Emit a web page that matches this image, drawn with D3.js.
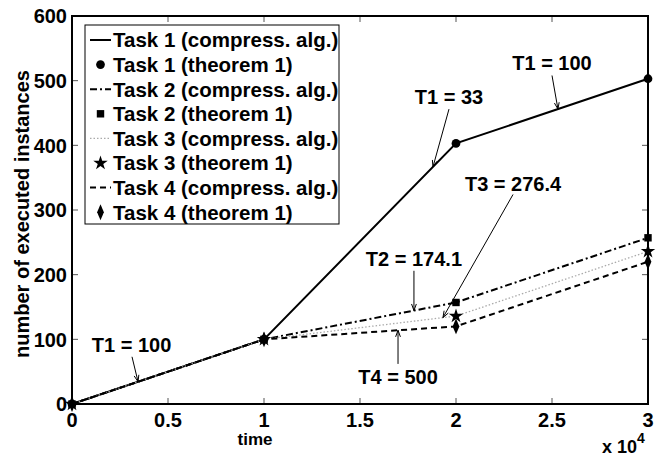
<!DOCTYPE html>
<html>
<head>
<meta charset="utf-8">
<script src="https://cdn.jsdelivr.net/npm/d3@7"></script>
<style>
  body { margin: 0; background: #fff; }
  svg { display: block; font-family: "Liberation Sans", Arial, Helvetica, sans-serif; font-weight: bold; }
</style>
</head>
<body>
<div id="chart"></div>
<script>
// Chart data.
const times = [0, 10000, 20000, 30000];
const task1 = [0, 100, 403, 503];
const task2 = [0, 100, 157, 257];
const task3 = [0, 100, 136, 236];
const task4 = [0, 100, 120, 220];

const xTicks = [0, 5000, 10000, 15000, 20000, 25000, 30000];
const xTickLabels = ["0", "0.5", "1", "1.5", "2", "2.5", "3"];
const yTicks = [0, 100, 200, 300, 400, 500, 600];

const legendLabels = ["Task 1 (compress. alg.)", "Task 1 (theorem 1)",
    "Task 2 (compress. alg.)", "Task 2 (theorem 1)",
    "Task 3 (compress. alg.)", "Task 3 (theorem 1)",
    "Task 4 (compress. alg.)", "Task 4 (theorem 1)"];

// Annotations: label, text anchor (time, value), arrow from -> to (time, value).
const annLabels = ["T1 = 100", "T1 = 33", "T1 = 100", "T3 = 276.4", "T2 = 174.1", "T4 = 500"];
const annText = [[3100, 81], [19635, 464], [25000, 516], [22970, 330], [17810, 214], [16980, 31]];
const annFrom = [[3125, 73], [19635, 456], [25000, 508], [22970, 324], [17810, 206], [16980, 62]];
const annTo = [[3440, 34.4], [18800, 366.6], [25310, 456], [19320, 133.6], [17810, 144.5], [16980, 114]];

function createChart(width, height) {
    const marginTop = 16;
    const marginRight = 10;
    const marginBottom = 54;
    const marginLeft = 72;

    const x = d3.scaleLinear().domain([0, 30000]).range([marginLeft, width - marginRight]);
    const y = d3.scaleLinear().domain([0, 600]).range([height - marginBottom, marginTop]);

    const svg = d3.create("svg")
        .attr("width", width)
        .attr("height", height)
        .attr("viewBox", [0, 0, width, height]);

    // Tick marks on all four sides, pointing inwards.
    const tickLen = 6;
    const ticks = svg.append("g").attr("stroke", "#555").attr("stroke-width", 1);
    xTicks.forEach(t => {
        ticks.append("line").attr("x1", x(t)).attr("x2", x(t))
            .attr("y1", y(0)).attr("y2", y(0) - tickLen);
        ticks.append("line").attr("x1", x(t)).attr("x2", x(t))
            .attr("y1", y(600)).attr("y2", y(600) + tickLen);
    });
    yTicks.forEach(t => {
        ticks.append("line").attr("x1", x(0)).attr("x2", x(0) + tickLen)
            .attr("y1", y(t)).attr("y2", y(t));
        ticks.append("line").attr("x1", x(30000)).attr("x2", x(30000) - tickLen)
            .attr("y1", y(t)).attr("y2", y(t));
    });

    // Tick labels.
    svg.append("g")
        .selectAll("text")
        .data(xTicks)
        .join("text")
        .attr("x", d => x(d))
        .attr("y", y(0) + 23)
        .attr("text-anchor", "middle")
        .attr("font-size", 20)
        .text((d, i) => xTickLabels[i]);

    svg.append("g")
        .selectAll("text")
        .data(yTicks)
        .join("text")
        .attr("x", x(0) - 5)
        .attr("y", d => y(d))
        .attr("dy", "0.36em")
        .attr("text-anchor", "end")
        .attr("font-size", 20)
        .text(d => d);

    // Axis labels.
    svg.append("text")
        .attr("x", 255)
        .attr("y", height - 13)
        .attr("text-anchor", "middle")
        .attr("font-size", 17)
        .text("time");

    svg.append("text")
        .attr("transform", `translate(29,${(y(0) + y(600)) / 2 + 4}) rotate(-90)`)
        .attr("text-anchor", "middle")
        .attr("font-size", 20)
        .text("number of executed instances");

    const exp = svg.append("text")
        .attr("x", width - 56)
        .attr("y", height - 5)
        .attr("font-size", 18);
    exp.append("tspan").text("x 10");
    exp.append("tspan").attr("dy", -10).attr("font-size", 14).text("4");

    // Lines.
    const series = [task1, task2, task3, task4];
    const styles = [
        {stroke: "#000", width: 2, dash: null},
        {stroke: "#000", width: 2, dash: "7,3,2,3"},
        {stroke: "#aaa", width: 1.3, dash: "1.5,2"},
        {stroke: "#000", width: 2, dash: "6,4"}
    ];
    const line = d3.line().x((d, i) => x(times[i])).y(d => y(d));

    series.forEach((s, i) => {
        svg.append("path")
            .datum(s)
            .attr("fill", "none")
            .attr("stroke", styles[i].stroke)
            .attr("stroke-width", styles[i].width)
            .attr("stroke-dasharray", styles[i].dash)
            .attr("d", line);
    });

    // Markers (theorem 1 results).
    const symbols = [
        d3.symbol().type(d3.symbolCircle).size(60),
        d3.symbol().type(d3.symbolSquare).size(55),
        d3.symbol().type(d3.symbolStar).size(65),
        d3.symbol().type(d3.symbolDiamond).size(55)
    ];
    series.forEach((s, i) => {
        svg.append("g")
            .selectAll("path")
            .data(s)
            .join("path")
            .attr("transform", (d, j) => `translate(${x(times[j])},${y(d)})` + (i === 3 ? " scale(0.85,1.15)" : ""))
            .attr("d", symbols[i])
            .attr("fill", "#000");
    });

    // Annotations with thin arrows.
    const ann = svg.append("g");
    annLabels.forEach((label, i) => {
        const x0 = x(annFrom[i][0]), y0 = y(annFrom[i][1]);
        const x1 = x(annTo[i][0]), y1 = y(annTo[i][1]);
        ann.append("line")
            .attr("x1", x0).attr("y1", y0).attr("x2", x1).attr("y2", y1)
            .attr("stroke", "#000").attr("stroke-width", 1);
        const ang = Math.atan2(y1 - y0, x1 - x0);
        const hl = 7, ha = 0.35;
        ann.append("path")
            .attr("d", `M${x1 - hl * Math.cos(ang - ha)},${y1 - hl * Math.sin(ang - ha)}L${x1},${y1}L${x1 - hl * Math.cos(ang + ha)},${y1 - hl * Math.sin(ang + ha)}`)
            .attr("fill", "none").attr("stroke", "#000").attr("stroke-width", 1);
        ann.append("text")
            .attr("x", x(annText[i][0]))
            .attr("y", y(annText[i][1]))
            .attr("text-anchor", "middle")
            .attr("font-size", 20)
            .text(label);
    });

    // Legend.
    const lx = 85, ly = 25, lw = 254, lh = 199, rowH = 24.6;
    const legend = svg.append("g");
    legend.append("rect")
        .attr("x", lx).attr("y", ly).attr("width", lw).attr("height", lh)
        .attr("fill", "#fff").attr("stroke", "#000").attr("stroke-width", 1);

    const rows = legend.selectAll("g.row")
        .data(legendLabels)
        .join("g")
        .attr("class", "row")
        .attr("transform", (d, i) => `translate(${lx}, ${ly + 15 + i * rowH})`);

    rows.each(function (d, i) {
        const g = d3.select(this);
        const k = Math.floor(i / 2);
        if (i % 2 === 0) {
            g.append("line")
                .attr("x1", 5).attr("x2", 26).attr("y1", 0).attr("y2", 0)
                .attr("stroke", styles[k].stroke)
                .attr("stroke-width", styles[k].width)
                .attr("stroke-dasharray", styles[k].dash);
        } else {
            g.append("path")
                .attr("transform", "translate(15.5,0)" + (k === 3 ? " scale(0.85,1.15)" : ""))
                .attr("d", symbols[k])
                .attr("fill", "#000");
        }
        g.append("text")
            .attr("x", 28)
            .attr("y", 0)
            .attr("dy", "0.36em")
            .attr("font-size", 20.5)
            .text(d);
    });

    // Axes box drawn last so it sits on top.
    svg.append("rect")
        .attr("x", x(0)).attr("y", y(600))
        .attr("width", x(30000) - x(0)).attr("height", y(0) - y(600))
        .attr("fill", "none").attr("stroke", "#000").attr("stroke-width", 2);

    return svg.node();
}

document.getElementById("chart").appendChild(createChart(658, 458));
</script>
</body>
</html>
